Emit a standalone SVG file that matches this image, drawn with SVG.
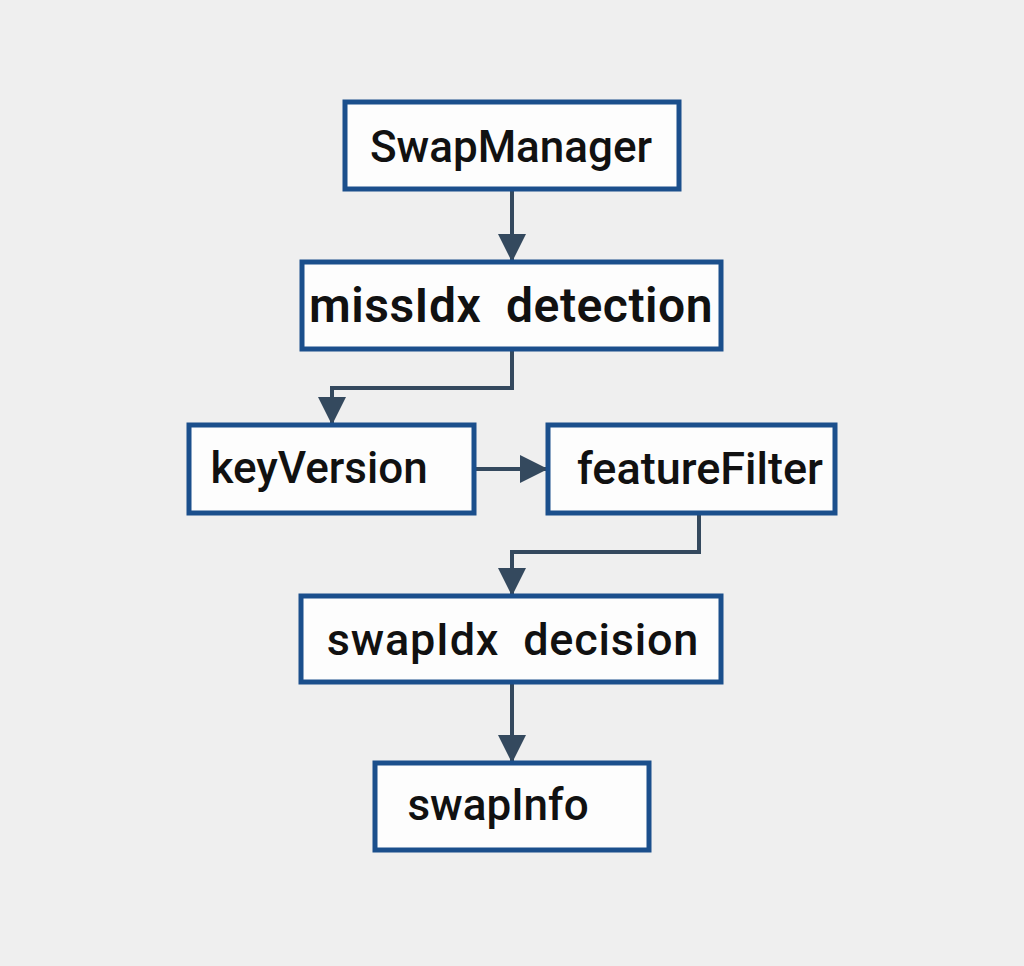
<svg xmlns="http://www.w3.org/2000/svg" width="1024" height="966" viewBox="0 0 1024 966">
<style>
.box{fill:#fdfdfd;stroke:#1b4f8c;stroke-width:5}
.t{font-family:Roboto,"Liberation Sans",sans-serif;fill:#111;text-anchor:middle;dominant-baseline:central;font-size:44px;font-weight:500;white-space:pre}
.c{fill:none;stroke:#34495e;stroke-width:4}
</style>
<defs><marker id="a" viewBox="0 0 10 10" refX="10" refY="5" markerWidth="7" markerHeight="7" markerUnits="strokeWidth" orient="auto"><path d="M0,0L10,5L0,10z" fill="#34495e"/></marker></defs>
<rect width="1024" height="966" fill="#efefef"/>
<g id="connectors">
<path class="c" marker-end="url(#a)" d="M512,189V262"/>
<path class="c" marker-end="url(#a)" d="M512,349V388H332V425"/>
<path class="c" marker-end="url(#a)" d="M474,469H548"/>
<path class="c" marker-end="url(#a)" d="M699,513V552H512V596"/>
<path class="c" marker-end="url(#a)" d="M512,682V763"/>
</g>
<g id="swapManager"><rect class="box" x="345" y="102" width="334" height="87"/><text class="t" x="511" y="147" font-weight="400">SwapManager</text></g>
<g id="missIdx"><rect class="box" x="302" y="262" width="419" height="87"/><text class="t" x="511" y="305" style="font-size:48px;font-weight:600;letter-spacing:0.5px" xml:space="preserve">missIdx  detection</text></g>
<g id="keyVersion"><rect class="box" x="189" y="425" width="285" height="88"/><text class="t" x="319" y="468">keyVersion</text></g>
<g id="featureFilter"><rect class="box" x="548" y="425" width="287" height="88"/><text class="t" x="700" y="468" style="font-size:45px">featureFilter</text></g>
<g id="swapIdx"><rect class="box" x="301" y="596" width="420" height="86"/><text class="t" x="513" y="639" style="font-size:45px;letter-spacing:0.8px" xml:space="preserve">swapIdx  decision</text></g>
<g id="swapInfo"><rect class="box" x="375" y="763" width="274" height="87"/><text class="t" x="498" y="805">swapInfo</text></g>
</svg>
